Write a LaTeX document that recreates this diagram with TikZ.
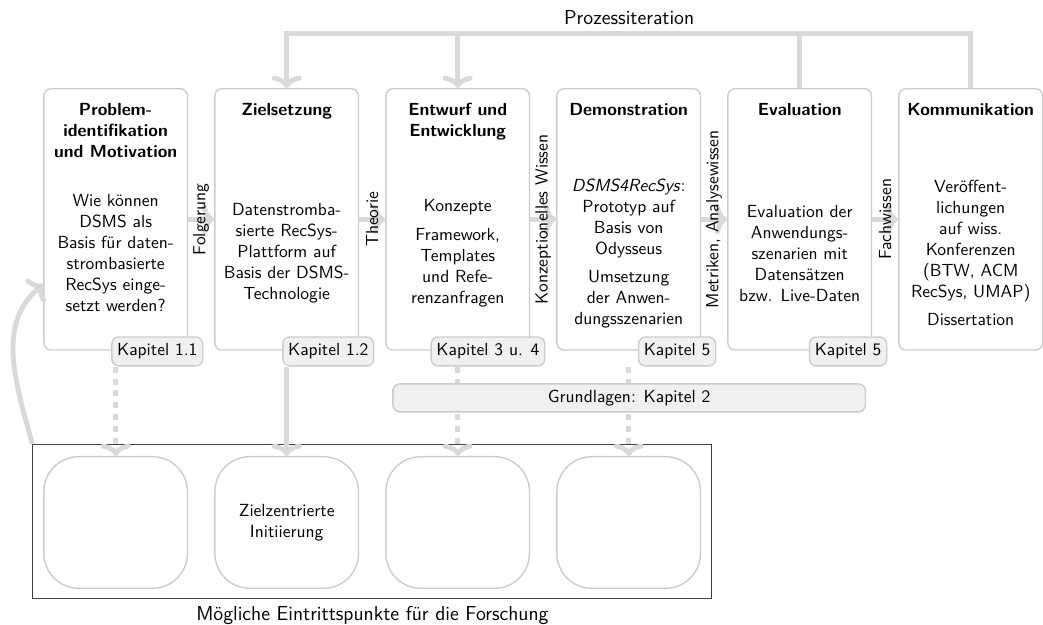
\documentclass[tikz,border=0pt]{standalone}
\usepackage{fontspec}
\usepackage{tikz}
\usetikzlibrary{arrows.meta,positioning}
\renewcommand{\familydefault}{\sfdefault}

\begin{document}
\begin{tikzpicture}[
    phase/.style={rectangle, draw=black!20, line width=0.8pt, rounded corners=4pt, minimum width=2.88cm, minimum height=5.24cm},
    phasetitle/.style={font=\bfseries, align=center, inner sep=0pt},
    body/.style={align=center, inner sep=0pt},
    chapter/.style={rectangle, draw=black!20, fill=black!6, line width=0.8pt, rounded corners=4pt, minimum height=0.58cm, inner xsep=3pt},
    entrybox/.style={rectangle, draw=black!20, line width=0.8pt, rounded corners=0.7cm, minimum width=2.88cm, minimum height=2.64cm, align=center},
    flow/.style={-{To[length=7pt,width=17pt]}, line width=2.8pt, black!15},
    flowline/.style={line width=2.8pt, black!15},
    dotflow/.style={flow, dash pattern=on 3.4pt off 3.4pt},
    gaplabel/.style={rotate=90, black, inner sep=0pt},
    bigtext/.style={font=\fontsize{11.5}{14}\selectfont}
]
    \useasboundingbox (0,0) rectangle (20.92,12.52);

    % Phases of the process, left to right
    \node[phase] (b1) at (2.32,8.12) {};
    \node[phase] (b2) at (5.75,8.12) {};
    \node[phase] (b3) at (9.18,8.12) {};
    \node[phase] (b4) at (12.61,8.12) {};
    \node[phase] (b5) at (16.04,8.12) {};
    \node[phase] (b6) at (19.47,8.12) {};

    \node[phasetitle, below=0.3cm of b1.north] (t1) {Problem-\\identifikation\\und Motivation};
    \node[phasetitle, below=0.3cm of b2.north] (t2) {Zielsetzung};
    \node[phasetitle, below=0.3cm of b3.north] (t3) {Entwurf und\\Entwicklung};
    \node[phasetitle, below=0.3cm of b4.north] (t4) {Demonstration};
    \node[phasetitle, below=0.3cm of b5.north] (t5) {Evaluation};
    \node[phasetitle, below=0.3cm of b6.north] (t6) {Kommunikation};

    \node[body] (c1) at (2.32,7.44) {Wie können\\DSMS als\\Basis für daten-\\strombasierte\\RecSys einge-\\setzt werden?};
    \node[body] (c2) at (5.75,7.44) {Datenstromba-\\sierte RecSys-\\Plattform auf\\Basis der DSMS-\\Technologie};
    \node[body] (c3) at (9.18,7.44) {Konzepte\\[4pt]Framework,\\Templates\\und Refe-\\renzanfragen};
    \node[body] (c4) at (12.61,7.44) {\textit{DSMS4RecSys}:\\Prototyp auf\\Basis von\\Odysseus\\[4pt]Umsetzung\\der Anwen-\\dungsszenarien};
    \node[body] (c5) at (16.04,7.44) {Evaluation der\\Anwendungs-\\szenarien mit\\Datensätzen\\bzw. Live-Daten};
    \node[body] (c6) at (19.47,7.44) {Veröffent-\\lichungen\\auf wiss.\\Konferenzen\\(BTW, ACM\\RecSys, UMAP)\\[4pt]Dissertation};

    % Arrows between phases
    \draw[flow] (b1) -- node[gaplabel] {Folgerung} (b2);
    \draw[flow] (b2) -- node[gaplabel] {Theorie} (b3);
    \draw[flow] (b3) -- node[gaplabel] {Konzeptionelles Wissen} (b4);
    \draw[flow] (b4) -- node[gaplabel] {Metriken, Analysewissen} (b5);
    \draw[flow] (b5) -- node[gaplabel] {Fachwissen} (b6);

    % Iteration on top
    \node[bigtext] (iter) at (12.62,12.16) {Prozessiteration};
    \coordinate (top) at (0,11.84);
    \draw[flow] (b6.north) |- (top -| b2.north) -- (b2.north);
    \draw[flow] (top -| b3.north) -- (b3.north);
    \draw[flowline] (b5.north) -- (top -| b5.north);

    % Entry points
    \node[draw=black!75, line width=0.6pt, minimum width=13.62cm, minimum height=3.08cm] (entries) at (7.47,2.06) {};
    \node[entrybox] (e1) at (2.32,2.04) {};
    \node[entrybox] (e2) at (5.75,2.04) {Zielzentrierte\\Initiierung};
    \node[entrybox] (e3) at (9.18,2.04) {};
    \node[entrybox] (e4) at (12.61,2.04) {};
    \node[bigtext] (caption) at (7.47,0.18) {Mögliche Eintrittspunkte für die Forschung};

    % Chapters
    \node[chapter, anchor=east] (k1) at (4.08,5.47) {Kapitel 1.1};
    \node[chapter, anchor=east] (k2) at (7.51,5.47) {Kapitel 1.2};
    \node[chapter, anchor=east] (k3) at (10.94,5.47) {Kapitel 3 u. 4};
    \node[chapter, anchor=east] (k4) at (14.37,5.47) {Kapitel 5};
    \node[chapter, anchor=east] (k5) at (17.80,5.47) {Kapitel 5};

    \draw[dotflow] (k1.south -| e1.north) -- (e1.north);
    \draw[flow] (k2.south -| e2.north) -- (e2.north);
    \draw[dotflow] (k3.south -| e3.north) -- (e3.north);
    \draw[dotflow] (k4.south -| e4.north) -- (e4.north);

    \node[chapter, minimum width=9.48cm, minimum height=0.56cm] (base) at (12.62,4.54) {Grundlagen: Kapitel 2};

    % Back to the start
    \draw[flow] (entries.north west) to[out=105, in=220] ([yshift=-1.3cm]b1.west);
\end{tikzpicture}
\end{document}
